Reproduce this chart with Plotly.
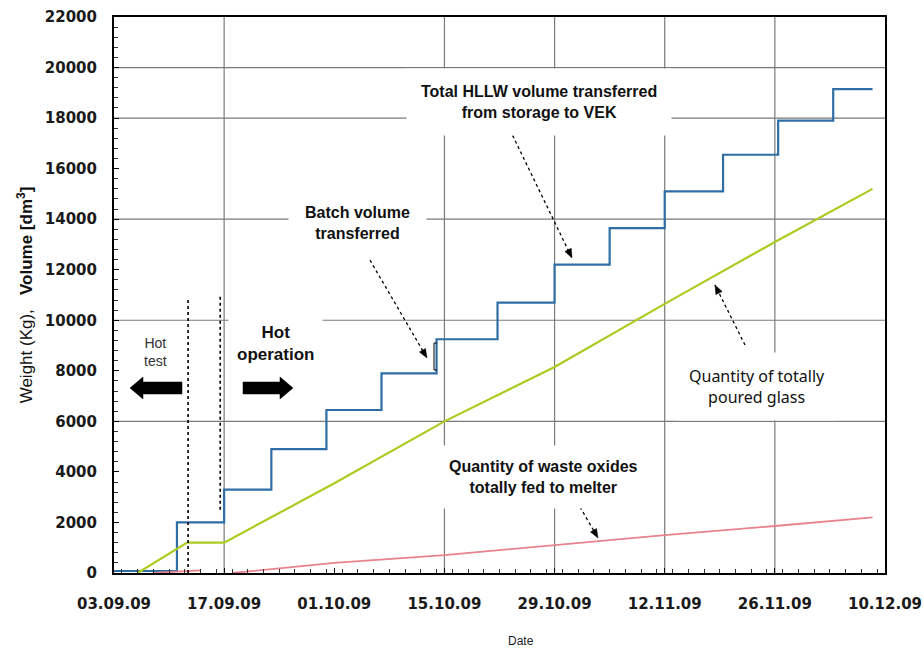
import plotly.graph_objects as go

# ---------------- data ----------------
hllw_dates = ['2009-09-03', '2009-09-11', '2009-09-17', '2009-09-23', '2009-09-30',
              '2009-10-07', '2009-10-14', '2009-10-21 18:00', '2009-10-29', '2009-11-05',
              '2009-11-12', '2009-11-19 10:00', '2009-11-26 10:00', '2009-12-03 10:00',
              '2009-12-08 10:00']
hllw_volume = [80, 2000, 3300, 4900, 6450, 7900, 9250, 10700, 12200, 13650,
               15100, 16550, 17900, 19150, 19150]

glass_dates = ['2009-09-06', '2009-09-12 07:00', '2009-09-17', '2009-10-01', '2009-10-15',
               '2009-10-29', '2009-11-12', '2009-11-26', '2009-12-08 10:00']
glass_weight = [0, 1200, 1200, 3550, 6000, 8150, 10650, 13100, 15200]

oxide_dates = ['2009-09-08', '2009-09-12', '2009-09-14', None, '2009-09-18', '2009-10-01',
               '2009-10-15', '2009-10-29', '2009-11-12', '2009-11-26', '2009-12-08 10:00']
oxide_weight = [0, 80, 100, None, 0, 400, 710, 1100, 1500, 1860, 2200]

tick_dates = ['2009-09-03', '2009-09-17', '2009-10-01', '2009-10-15', '2009-10-29',
              '2009-11-12', '2009-11-26', '2009-12-10']
tick_text = ['03.09.09', '17.09.09', '01.10.09', '15.10.09', '29.10.09',
             '12.11.09', '26.11.09', '10.12.09']
y_ticks = list(range(0, 22001, 2000))

hgrid_values = [20000, 18000, 14000, 10000, 6000]
vgrid_dates = ['2009-09-17', '2009-10-15', '2009-10-29', '2009-11-12', '2009-11-26']
phase_lines = [('2009-09-12 10:00', 0, 10900), ('2009-09-16 12:00', 2500, 11000)]

# ---------------- layout helpers (plot box in page pixels) ----------------
X0, X1, YT, YB = 114, 885, 17, 573
W, H = 924, 654


def fx(px):
    return (px - X0) / (X1 - X0)


def fy(py):
    return (YB - py) / (YB - YT)


def poly(pts, close=True):
    s = 'M ' + ' L '.join(f'{fx(a):.5f},{fy(b):.5f}' for a, b in pts)
    return s + (' Z' if close else '')


fig = go.Figure()

fig.add_trace(go.Scatter(x=hllw_dates, y=hllw_volume, mode='lines', line_shape='hv',
                         line=dict(color='#2f6ea5', width=2.2), showlegend=False))
fig.add_trace(go.Scatter(x=glass_dates, y=glass_weight, mode='lines',
                         line=dict(color='#aacb1f', width=2.2), showlegend=False))
fig.add_trace(go.Scatter(x=oxide_dates, y=oxide_weight, mode='lines', connectgaps=False,
                         line=dict(color='#e8828e', width=1.8), showlegend=False))

shapes = []
for v in hgrid_values:
    shapes.append(dict(type='line', xref='paper', yref='y', x0=0, x1=1, y0=v, y1=v,
                       line=dict(color='#7a7a7a', width=1.2), layer='below'))
for d in vgrid_dates:
    shapes.append(dict(type='line', xref='x', yref='paper', x0=d, x1=d, y0=0, y1=1,
                       line=dict(color='#7a7a7a', width=1.2), layer='below'))
for d, ya, yb in phase_lines:
    shapes.append(dict(type='line', xref='x', yref='y', x0=d, x1=d, y0=ya, y1=yb,
                       line=dict(color='black', width=1.6, dash='dot')))

# thick black arrows (hot test <- , -> hot operation)
left_arrow = [(130, 388), (143, 377), (143, 382), (182, 382), (182, 394), (143, 394), (143, 399)]
right_arrow = [(243, 382), (280, 382), (280, 377), (293, 388), (280, 399), (280, 394), (243, 394)]
for pts in (left_arrow, right_arrow):
    shapes.append(dict(type='path', xref='paper', yref='paper', path=poly(pts),
                       fillcolor='black', line=dict(color='black', width=0.5)))

# batch bracket
shapes.append(dict(type='path', xref='paper', yref='paper',
                   path=poly([(437, 343), (434, 343), (434, 370), (437, 370)], close=False),
                   line=dict(color='black', width=1)))

# dotted pointer lines with small arrowheads
pointers = [((510, 130), (572, 258)), ((367, 255), (427, 358)),
            ((745, 345), (715, 285)), ((580, 507), (598, 538))]
for (sx, sy), (tx, ty) in pointers:
    shapes.append(dict(type='line', xref='paper', yref='paper',
                       x0=fx(sx), y0=fy(sy), x1=fx(tx), y1=fy(ty),
                       line=dict(color='black', width=1.3, dash='dot')))
    dx, dy = tx - sx, ty - sy
    n = (dx * dx + dy * dy) ** 0.5
    ux, uy = dx / n, dy / n
    bx, by = tx - ux * 9, ty - uy * 9
    px_, py_ = -uy * 3.5, ux * 3.5
    head = [(tx, ty), (bx + px_, by + py_), (bx - px_, by - py_)]
    shapes.append(dict(type='path', xref='paper', yref='paper', path=poly(head),
                       fillcolor='black', line=dict(color='black', width=0.5)))

annotations = []
bold_font = dict(family='Liberation Sans, Arial', size=16, color='#111')


def label(px, py, text, font, pad=0, bg=None):
    d = dict(xref='paper', yref='paper', x=fx(px), y=fy(py), text=text, showarrow=False,
             font=font, align='center', xanchor='center', yanchor='middle', borderpad=pad)
    if bg:
        d['bgcolor'] = bg
    annotations.append(d)


label(539, 102, '<b>Total HLLW volume transferred<br>from storage to VEK</b>', bold_font, 14, 'white')
label(357, 223, '<b>Batch volume<br>transferred</b>', bold_font, 16, 'white')
label(757, 386, 'Quantity of totally<br>poured glass',
      dict(family='Noto Sans, Arial', size=16, color='#111'), 12, 'white')
label(543, 477, '<b>Quantity of waste oxides<br>totally fed to melter</b>', bold_font, 12, 'white')
label(275, 343, '<b>Hot<br>operation</b>', dict(family='Liberation Sans, Arial', size=17, color='#111'), 8, 'white')
label(155, 352, 'Hot<br>test', dict(family='Liberation Sans, Arial', size=14, color='#333'))
label(521, 641, 'Date', dict(family='Liberation Sans, Arial', size=12, color='#222'))

tick_font = dict(family='DejaVu Sans', size=15, color='#1a1a1a', weight='bold')

fig.update_layout(
    width=W, height=H,
    margin=dict(l=X0, r=W - X1, t=YT, b=H - YB),
    paper_bgcolor='white', plot_bgcolor='white',
    shapes=shapes, annotations=annotations,
    xaxis=dict(type='date', range=['2009-09-03', '2009-12-10'], automargin=False,
               tickvals=tick_dates, ticktext=tick_text, tickfont=tick_font,
               showgrid=False, zeroline=False, showline=True, mirror=True,
               linecolor='black', linewidth=2, ticks='inside', ticklen=5,
               tickcolor='black', ticklabelstandoff=16,
               minor=dict(ticks='inside', ticklen=4, dtick=2 * 86400000,
                          tickcolor='#333', showgrid=False)),
    yaxis=dict(range=[0, 22000], tickvals=y_ticks, tickfont=tick_font, automargin=False,
               tickformat='d',
               showgrid=False, zeroline=False, showline=True, mirror=True,
               linecolor='black', linewidth=2, ticks='inside', ticklen=5,
               tickcolor='black', ticklabelstandoff=12,
               minor=dict(ticks='inside', ticklen=4, dtick=400, tickcolor='#333',
                          showgrid=False),
               title=dict(text='Weight (Kg),   <b>Volume [dm<sup>3</sup>]</b>',
                          font=dict(family='Liberation Sans, Arial', size=17, color='#111'),
                          standoff=8)),
)

fig.write_html('out.html', config={'displayModeBar': False},
               post_script="document.body.style.margin='0px';document.body.style.padding='0px';")
